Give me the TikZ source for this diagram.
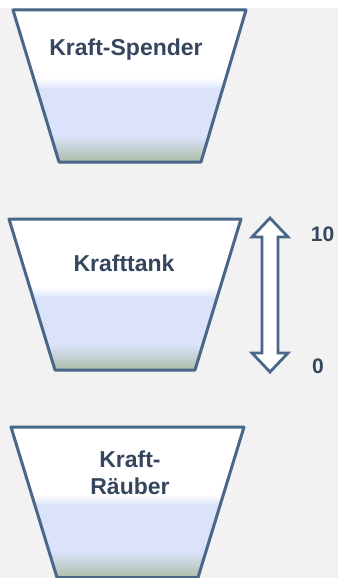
\documentclass[tikz,border=0pt]{standalone}
\usepackage{fontspec}
\setmainfont{Liberation Sans}
\definecolor{pagegrey}{HTML}{F2F2F2}
\definecolor{tankline}{HTML}{4A6689}
\definecolor{tanktext}{HTML}{36465E}
\definecolor{waterblue}{HTML}{DAE3FA}
\definecolor{sediment}{HTML}{A9BAA4}
\tikzset{
  tankedge/.style={draw=tankline, line width=3pt, line join=round},
  tanklabel/.style={text=tanktext, font=\bfseries\fontsize{23}{27}\selectfont, align=center, inner sep=0pt, anchor=base},
  scalelabel/.style={text=tanktext, font=\bfseries\fontsize{21}{24}\selectfont, inner sep=0pt, anchor=base},
  levelarrow/.style={draw=tankline, fill=white, line width=2.8pt, line join=miter}
}
% #1 top y, #2 bottom y, #3 top-left x, #4 top-right x, #5 bottom-left x, #6 bottom-right x
\newcommand\drawtank[6]{%
  \pgfmathsetmacro\tkh{#2-#1}%
  \pgfmathsetmacro\tkw{#1+0.45*\tkh}%
  \pgfmathsetmacro\tkb{#1+0.52*\tkh}%
  \pgfmathsetmacro\tkg{#1+0.83*\tkh}%
  \begin{scope}
    \clip (#3,#1) -- (#4,#1) -- (#6,#2) -- (#5,#2) -- cycle;
    \fill[white] (0,#1-5) rectangle (338,\tkw);
    \shade[top color=white, bottom color=waterblue] (0,\tkw) rectangle (338,\tkb);
    \fill[waterblue] (0,\tkb) rectangle (338,\tkg);
    \shade[top color=waterblue, bottom color=sediment] (0,\tkg) rectangle (338,#2+2);
  \end{scope}
  \draw[tankedge] (#3,#1) -- (#4,#1) -- (#6,#2) -- (#5,#2) -- cycle;
}
\begin{document}
\begin{tikzpicture}[x=1pt, y=-1pt]
  \useasboundingbox (0,0) rectangle (338,578);
  % page background
  \fill[pagegrey] (0,0) rectangle (338,578);
  \fill[white] (0,0) rectangle (338,8);

  % three tanks
  \drawtank{10}{162}{13}{246}{59}{201}
  \drawtank{219}{370}{9}{241}{55}{195}
  \drawtank{427}{577.5}{11}{244}{57}{198}

  \node[tanklabel] (spender) at (126,56) {Kraft-Spender};
  \node[tanklabel] (tank) at (124,271) {Krafttank};
  \node[tanklabel] (raeuber) at (130,494) {Kraft-\\Räuber};

  % level scale
  \draw[levelarrow] (270,218) -- (288,237) -- (278,237) -- (278,353) -- (288,353)
    -- (270,372) -- (252,353) -- (262,353) -- (262,237) -- (252,237) -- cycle;
  \node[scalelabel] (full) at (322.5,241) {10};
  \node[scalelabel] (empty) at (318,373) {0};
\end{tikzpicture}
\end{document}
